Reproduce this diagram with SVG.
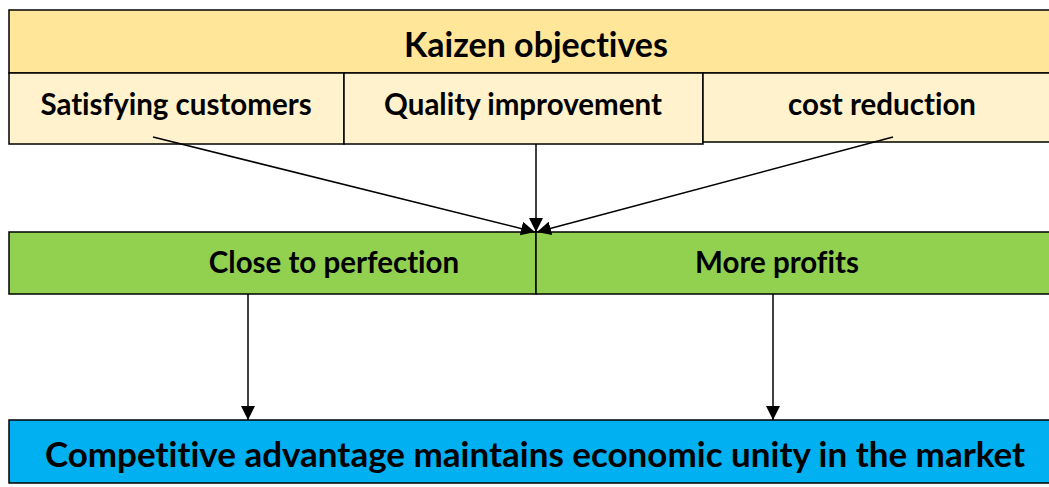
<svg xmlns="http://www.w3.org/2000/svg" width="1049" height="487" viewBox="0 0 1049 487">
<style>
.b{stroke:#000;stroke-width:1.5}
.t{font-family:Lato,"Liberation Sans",sans-serif;font-weight:bold;fill:#000;text-anchor:middle;font-variant-ligatures:none}
.m{font-size:29.5px}
.c{stroke:#000;stroke-width:1.5;fill:none;marker-end:url(#ah)}
</style>
<defs>
<marker id="ah" viewBox="0 0 14 14" refX="14" refY="7" markerWidth="14" markerHeight="14" markerUnits="userSpaceOnUse" orient="auto">
<path d="M0,0 L14,7 L0,14 Z" fill="#000"/>
</marker>
</defs>
<rect width="1049" height="487" fill="#fff"/>
<g id="kaizen">
<rect class="b" x="9" y="10" width="1045" height="63" fill="#FFE699"/>
<text class="t" x="536" y="57" font-size="34">Kaizen objectives</text>
</g>
<g id="satisfying">
<rect class="b" x="9" y="73" width="335" height="71" fill="#FFF2CC"/>
<text class="t m" x="176" y="115">Satisfying customers</text>
</g>
<g id="quality">
<rect class="b" x="344" y="73" width="359" height="71" fill="#FFF2CC"/>
<text class="t m" x="523" y="115">Quality improvement</text>
</g>
<g id="cost">
<rect class="b" x="703" y="73" width="351" height="69" fill="#FFF2CC"/>
<text class="t m" x="882" y="115">cost reduction</text>
</g>
<g id="perfection">
<rect class="b" x="9" y="232" width="527" height="62" fill="#92D050"/>
<text class="t m" x="334" y="273">Close to perfection</text>
</g>
<g id="profits">
<rect class="b" x="536" y="232" width="518" height="62" fill="#92D050"/>
<text class="t m" x="777" y="273">More profits</text>
</g>
<g id="competitive">
<rect class="b" x="9" y="420" width="1045" height="63" fill="#00B0F0"/>
<text class="t" x="535" y="467" font-size="35">Competitive advantage maintains economic unity in the market</text>
</g>
<g id="connectors">
<path class="c" d="M153,137 L535,232"/>
<path class="c" d="M536,144 L536,232"/>
<path class="c" d="M893,137 L537,232"/>
<path class="c" d="M248,294 L248,420"/>
<path class="c" d="M773,294 L773,420"/>
</g>
</svg>
